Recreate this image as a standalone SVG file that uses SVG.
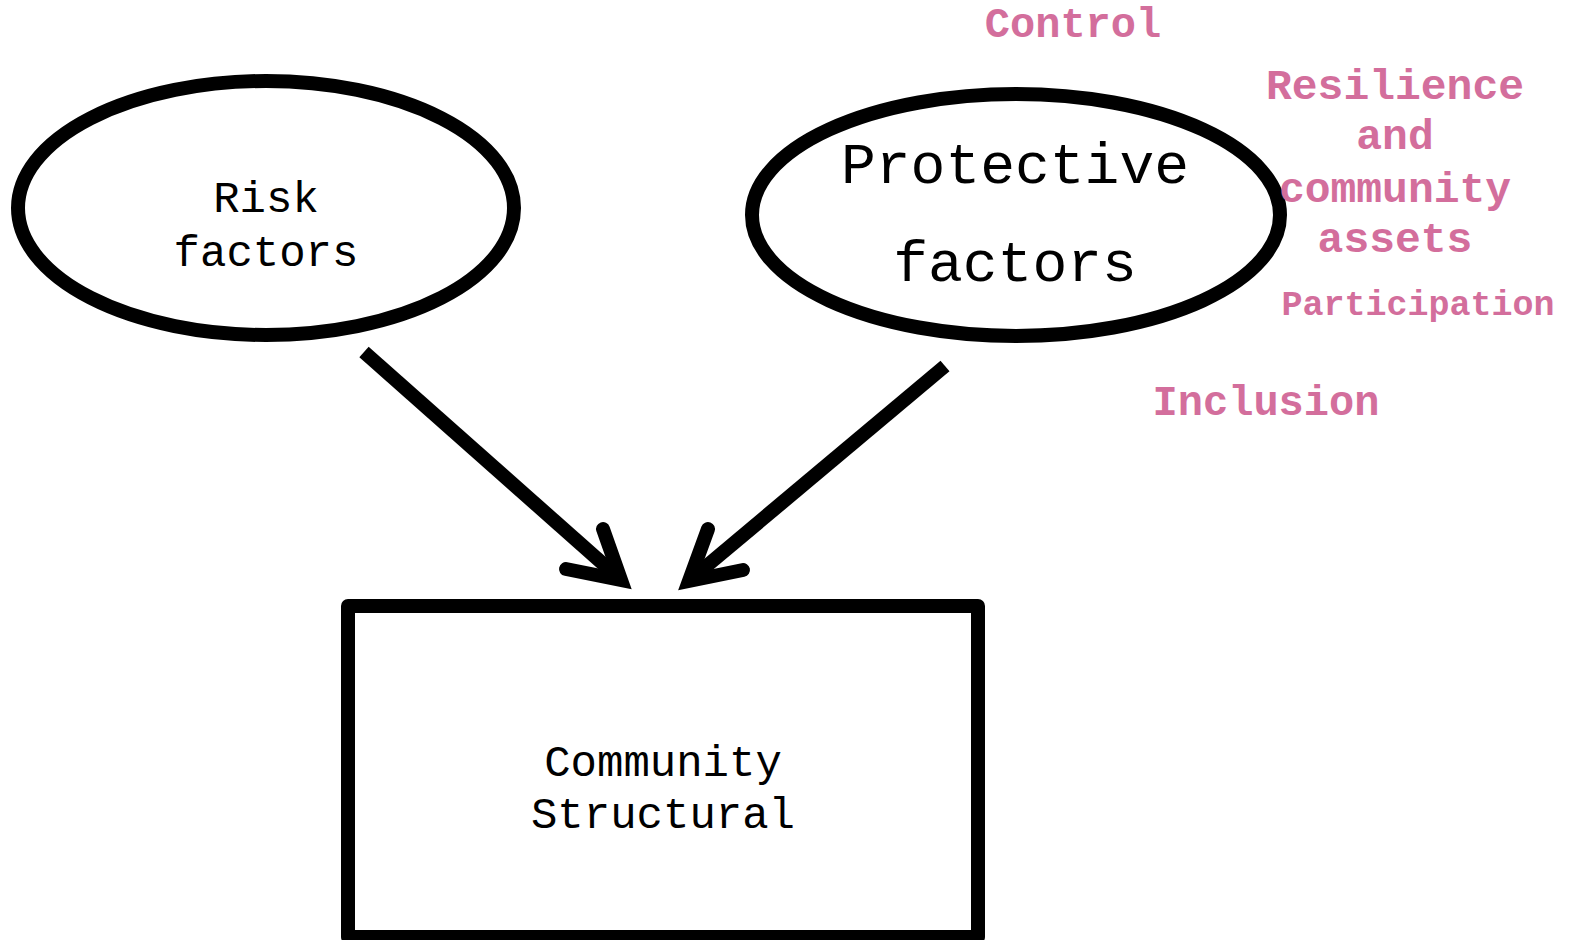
<svg xmlns="http://www.w3.org/2000/svg" width="1576" height="940" viewBox="0 0 1576 940">
<style>
.shape{fill:#fff;stroke:#000;stroke-width:14}
.lbl{font-family:"Liberation Mono","DejaVu Sans Mono",monospace;fill:#000;text-anchor:middle}
.pk{font-family:"Liberation Mono","DejaVu Sans Mono",monospace;font-weight:bold;fill:#D36E9C;text-anchor:middle}
.ln{fill:none;stroke:#000;stroke-width:14}
.hd{fill:none;stroke:#000;stroke-width:14;stroke-linecap:round;stroke-linejoin:miter}
</style>
<rect width="1576" height="940" fill="#fff"/>
<g id="risk">
<ellipse class="shape" cx="266" cy="208" rx="248" ry="127"/>
<text class="lbl" x="266" y="212" font-size="44">Risk</text>
<text class="lbl" x="266" y="266" font-size="44">factors</text>
</g>
<g id="protective">
<ellipse class="shape" cx="1016" cy="215" rx="264" ry="121"/>
<text class="lbl" x="1015" y="183" font-size="58">Protective</text>
<text class="lbl" x="1015" y="281" font-size="58">factors</text>
</g>
<g id="community">
<rect class="shape" x="348" y="606" width="630" height="331" stroke-linejoin="round"/>
<text class="lbl" x="663" y="776" font-size="44">Community</text>
<text class="lbl" x="663" y="828" font-size="44">Structural</text>
</g>
<g id="labels">
<text class="pk" x="1073" y="37" font-size="42">Control</text>
<text class="pk" x="1395" y="99" font-size="43">Resilience</text>
<text class="pk" x="1395" y="149" font-size="43">and</text>
<text class="pk" x="1395" y="202" font-size="43">community</text>
<text class="pk" x="1395" y="252" font-size="43">assets</text>
<text class="pk" x="1418" y="315" font-size="35">Participation</text>
<text class="pk" x="1266" y="415" font-size="42">Inclusion</text>
</g>
<g id="connectors">
<path class="ln" d="M364,352 L619,578"/>
<path class="hd" d="M603,529 L621,580 L566,569"/>
<path class="ln" d="M945,366 L691,579"/>
<path class="hd" d="M708,529 L689,581 L743,570"/>
</g>
</svg>
